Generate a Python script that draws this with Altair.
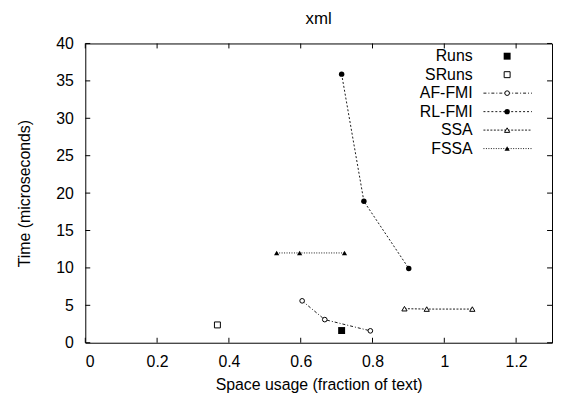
import altair as alt
import pandas as pd

# ---- data ----
series_names = ["Runs", "SRuns", "AF-FMI", "RL-FMI", "SSA", "FSSA"]
runs_x = [0.714]
runs_y = [1.63]
sruns_x = [0.368]
sruns_y = [2.38]
affmi_x = [0.604, 0.667, 0.794]
affmi_y = [5.6, 3.09, 1.59]
rlfmi_x = [0.714, 0.776, 0.901]
rlfmi_y = [35.9, 18.9, 9.93]
ssa_x = [0.889, 0.951, 1.078]
ssa_y = [4.55, 4.5, 4.5]
fssa_x = [0.533, 0.597, 0.722]
fssa_y = [12.0, 12.0, 12.0]

x_ticks = [0, 0.2, 0.4, 0.6, 0.8, 1.0, 1.2]
y_ticks = [0, 5, 10, 15, 20, 25, 30, 35, 40]

FONT = "Liberation Sans"
X_DOM = [0, 1.3]
Y_DOM = [0, 40]
PLOT_W = 471
PLOT_H = 302

xs = [runs_x, sruns_x, affmi_x, rlfmi_x, ssa_x, fssa_x]
ys = [runs_y, sruns_y, affmi_y, rlfmi_y, ssa_y, fssa_y]

styles = {
    "Runs": dict(shape="square", filled=True, size=49, line=False, dash=None),
    "SRuns": dict(shape="square", filled=False, size=36, line=False, dash=None),
    "AF-FMI": dict(shape="circle", filled=False, size=22, line=True, dash=[3, 2, 1, 2]),
    "RL-FMI": dict(shape="circle", filled=True, size=30, line=True, dash=[2, 2]),
    "SSA": dict(shape="triangle-up", filled=False, size=28, line=True, dash=[2, 1.5]),
    "FSSA": dict(shape="triangle-up", filled=True, size=28, line=True, dash=[1, 1.5]),
}

xsc = alt.Scale(domain=X_DOM, nice=False, zero=False)
ysc = alt.Scale(domain=Y_DOM, nice=False, zero=False)

x_axis = alt.Axis(values=x_ticks, title="Space usage (fraction of text)",
                  grid=False, domain=False, ticks=False, tickSize=0,
                  labelPadding=11, titlePadding=7, labelOverlap=False,
                  labelExpr="datum.value == 0 ? '0' : format(datum.value, '.1~f')")
y_axis = alt.Axis(values=y_ticks, title="Time (microseconds)",
                  grid=False, domain=False, ticks=False, tickSize=0,
                  labelOverlap=False, labelPadding=12, titlePadding=23)


def X():
    return alt.X("x:Q", scale=xsc, axis=x_axis)


def Y():
    return alt.Y("y:Q", scale=ysc, axis=y_axis)


layers = []

# inward tick marks on all four sides (5 px long)
tx = 5 * (X_DOM[1] - X_DOM[0]) / PLOT_W
ty = 5 * (Y_DOM[1] - Y_DOM[0]) / PLOT_H
tick_rows = []
for v in x_ticks:
    tick_rows.append(dict(x=v, x2=v, y=Y_DOM[0], y2=Y_DOM[0] + ty))
    tick_rows.append(dict(x=v, x2=v, y=Y_DOM[1], y2=Y_DOM[1] - ty))
for v in y_ticks:
    tick_rows.append(dict(x=X_DOM[0], x2=X_DOM[0] + tx, y=v, y2=v))
    tick_rows.append(dict(x=X_DOM[1], x2=X_DOM[1] - tx, y=v, y2=v))
ticks_df = pd.DataFrame(tick_rows)
layers.append(
    alt.Chart(ticks_df).mark_rule(color="black", strokeWidth=1).encode(
        x=X(), x2="x2:Q", y=Y(), y2="y2:Q"
    )
)

# legend geometry (in data units)
leg_text_x = 1.079
leg_sym_x = 1.175
leg_line_x1 = 1.109
leg_line_x2 = 1.244
leg_y0 = 38.3
leg_dy = 2.47

for i, name in enumerate(series_names):
    st = styles[name]
    df = pd.DataFrame({"x": xs[i], "y": ys[i]})
    if st["line"]:
        layers.append(
            alt.Chart(df).mark_line(color="black", strokeWidth=0.9,
                                    strokeDash=st["dash"]).encode(x=X(), y=Y())
        )
    layers.append(
        alt.Chart(df).mark_point(shape=st["shape"], filled=st["filled"],
                                 size=st["size"], color="black",
                                 fill="black" if st["filled"] else "white",
                                 strokeWidth=1, opacity=1).encode(x=X(), y=Y())
    )
    ly = leg_y0 - i * leg_dy
    tdf = pd.DataFrame({"x": [leg_text_x], "y": [ly], "label": [name]})
    layers.append(
        alt.Chart(tdf).mark_text(align="right", baseline="middle", font=FONT,
                                 fontSize=16, color="black").encode(
            x=X(), y=Y(), text="label:N")
    )
    if st["line"]:
        ldf = pd.DataFrame({"x": [leg_line_x1], "x2": [leg_line_x2], "y": [ly]})
        layers.append(
            alt.Chart(ldf).mark_rule(color="black", strokeWidth=0.9,
                                     strokeDash=st["dash"]).encode(
                x=X(), x2="x2:Q", y=Y())
        )
    sdf = pd.DataFrame({"x": [leg_sym_x], "y": [ly]})
    layers.append(
        alt.Chart(sdf).mark_point(shape=st["shape"], filled=st["filled"],
                                  size=st["size"], color="black",
                                  fill="black" if st["filled"] else "white",
                                  strokeWidth=1, opacity=1).encode(x=X(), y=Y())
    )

chart = alt.layer(*layers).properties(
    width=PLOT_W, height=PLOT_H,
    title=alt.TitleParams("xml", font=FONT, fontSize=17, fontWeight="normal",
                          anchor="middle", offset=8, color="black"),
    autosize=alt.AutoSizeParams(type="none"),
    padding={"left": 78, "top": 34, "right": 2, "bottom": 56},
).configure(
    background="white"
).configure_view(
    stroke="black", strokeWidth=1
).configure_axis(
    labelFont=FONT, titleFont=FONT, labelFontSize=16, titleFontSize=16,
    labelColor="black", titleColor="black", titleFontWeight="normal"
)

chart.save("out.html", embed_options={"renderer": "svg", "actions": False})
